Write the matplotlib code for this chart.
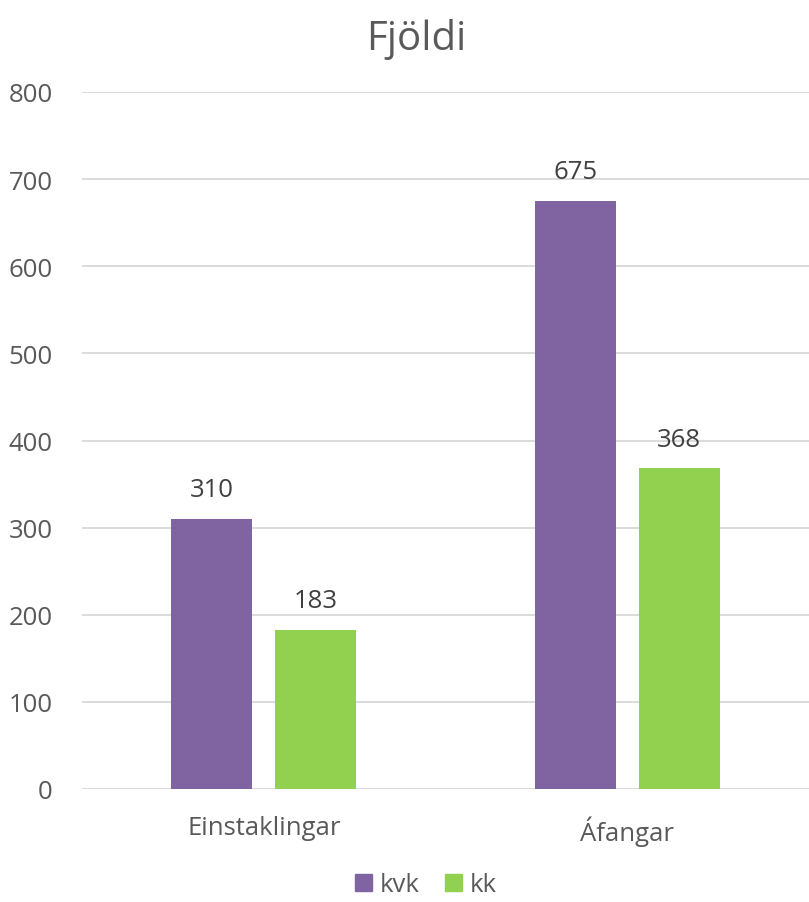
import matplotlib
matplotlib.use("Agg")
import matplotlib.pyplot as plt
from matplotlib.patches import Patch

categories = ["Einstaklingar", "Áfangar"]
series_names = ["kvk", "kk"]
kvk = [310, 675]
kk = [183, 368]
yticks = [0, 100, 200, 300, 400, 500, 600, 700, 800]

colors = ["#8064A2", "#92D050"]
txt = "#595959"

plt.rcParams["font.family"] = ["Open Sans", "DejaVu Sans"]

fig = plt.figure(figsize=(8.09, 9.03), dpi=100)
ax = fig.add_axes([82/809, 1-790/903, 1-82/809, (790-93)/903])

x = list(range(len(categories)))
w = 0.223
off = 0.143
for vals, name, c, o in [(kvk, series_names[0], colors[0], -off), (kk, series_names[1], colors[1], off)]:
    bars = ax.bar([i + o for i in x], vals, width=w, color=c, label=name, zorder=3)
    for b, v in zip(bars, vals):
        ax.text(b.get_x() + b.get_width()/2, v + 19, str(v), ha="center", va="bottom",
                fontsize=18.5, color="#404040")

ax.set_xlim(-0.5, 1.5)
ax.set_ylim(0, 800)
ax.set_yticks(yticks)
ax.set_yticklabels([str(t) for t in yticks], fontsize=18.5, color=txt)
ax.set_xticks(x)
ax.set_xticklabels(categories, fontsize=18.5, color=txt)
ax.tick_params(axis="both", length=0)
ax.tick_params(axis="y", pad=21)
ax.tick_params(axis="x", pad=19)
ax.grid(axis="y", color="#D9D9D9", linewidth=1.3, zorder=0)
for s in ax.spines.values():
    s.set_visible(False)

fig.text(416/809, 1-40/903, "Fjöldi", ha="center", va="center", fontsize=29, color=txt)

handles = [Patch(color=colors[0], label=series_names[0]), Patch(color=colors[1], label=series_names[1])]
fig.legend(handles=handles, loc="center", bbox_to_anchor=(426/809, 1-886/903), ncol=2,
           frameon=False, fontsize=18.5, handlelength=0.65, handleheight=0.65,
           handletextpad=0.3, columnspacing=1.0, labelcolor=txt)

fig.savefig("out.png", dpi=100)
